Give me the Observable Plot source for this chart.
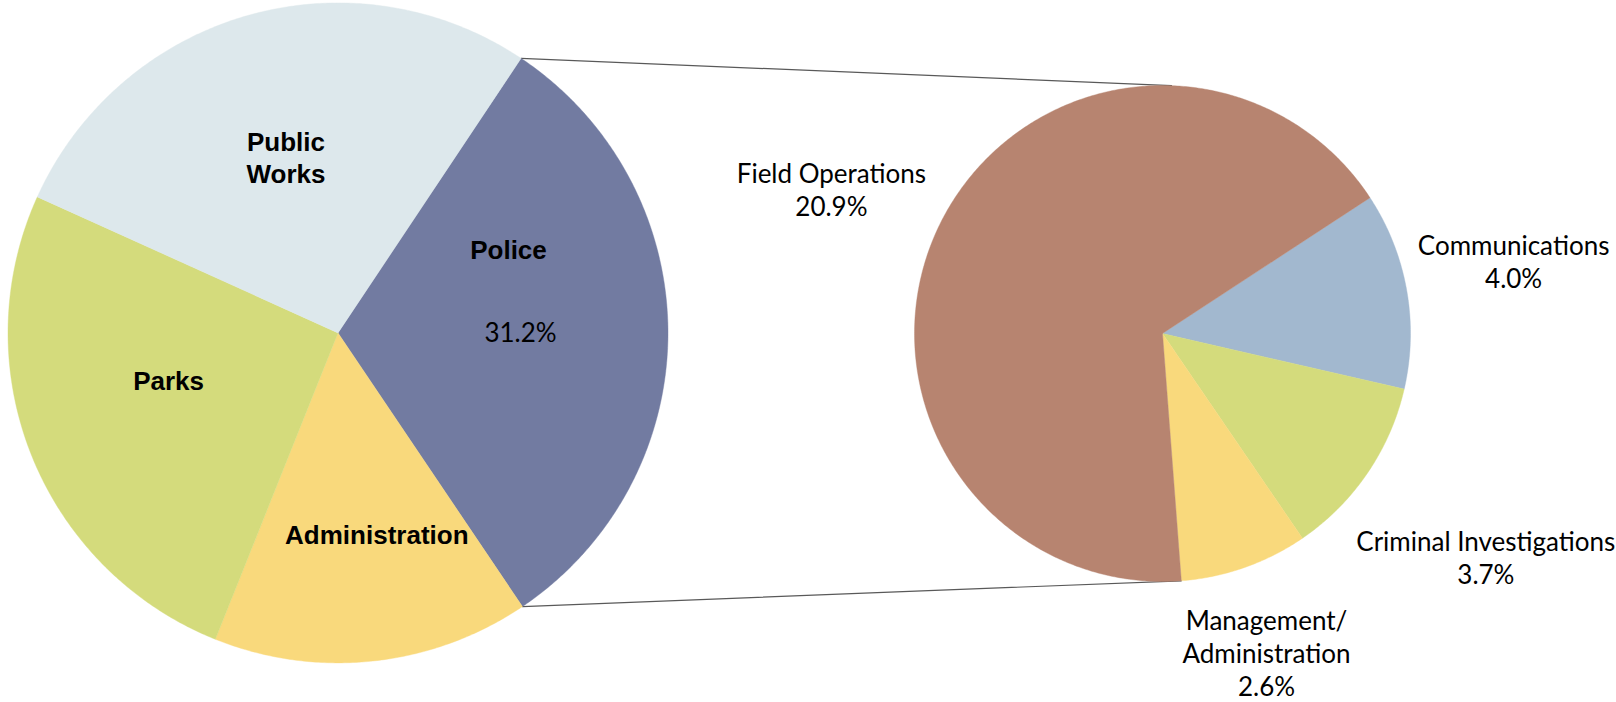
<!DOCTYPE html>
<html><head><meta charset="utf-8">
<script src="https://cdn.jsdelivr.net/npm/d3@7"></script>
<script src="https://cdn.jsdelivr.net/npm/@observablehq/plot@0.6"></script>
<style>html,body{margin:0;padding:0;background:#fff;overflow:hidden}</style>
</head><body><div id="chart"></div>
<script>
// ---- data ----
const mainCategories = ["Police", "Administration", "Parks", "Public Works"];
const mainValues = [31.2, 15.5, 25.7, 27.6];
const mainLabels = ["Police", "Administration", "Parks", "Public\nWorks"];
const mainShowValue = [true, false, false, false];

const subCategories = ["Communications", "Criminal Investigations", "Management/Administration", "Field Operations"];
const subValues = [4.0, 3.7, 2.6, 20.9];
const subLabels = ["Communications", "Criminal Investigations", "Management/\nAdministration", "Field Operations"];

// ---- styles / layout ----
const mainColors = ["#727BA1", "#F9D97C", "#D4DB7C", "#DDE8EC"];
const subColors = ["#A2B8CF", "#D4DB7C", "#F9D97C", "#B78470"];
const W = 1616, H = 702;
const mainPie = {cx: 337.5, cy: 332.4, r: 330, start: 33.7};
const subPie = {cx: 1162, cy: 333, r: 248, start: 56.8};
const mainLabelPolar = [[-13.35, 0.55], [-4.85, 0.62], [6.35, 0.533], [-0.45, 0.557]];
const subLabelPolar = [[-1.6, 1.446], [0.35, 1.585], [1.3, 1.353], [-2.7, 1.456]];
const connectorTopAngle = 2.1;

const rad = Math.PI / 180;
const fmt = v => d3.format(".1f")(v) + "%";
const polar = (p, a, r) => ({x: p.cx + r * Math.sin(a), y: p.cy - r * Math.cos(a)});

function slices(pie, cats, vals) {
  const arcs = d3.pie().value(d => d).sort(null)
    .startAngle(pie.start * rad).endAngle(pie.start * rad + 2 * Math.PI)(vals);
  const pts = [];
  arcs.forEach((a, i) => {
    pts.push({name: cats[i], ...polar(pie, 0, 0)});
    const n = Math.max(2, Math.ceil((a.endAngle - a.startAngle) / rad * 2));
    for (let k = 0; k <= n; k++) {
      const t = a.startAngle + (a.endAngle - a.startAngle) * k / n;
      pts.push({name: cats[i], ...polar(pie, t, pie.r)});
    }
    pts.push({name: cats[i], ...polar(pie, 0, 0)});
  });
  return {arcs, pts};
}

const M = slices(mainPie, mainCategories, mainValues);
const S = slices(subPie, subCategories, subValues);

const mainNames = [], mainVals = [];
M.arcs.forEach((a, i) => {
  const mid = (a.startAngle + a.endAngle) / 2 + mainLabelPolar[i][0] * rad;
  const p = polar(mainPie, mid, mainLabelPolar[i][1] * mainPie.r);
  if (mainShowValue[i]) {
    mainNames.push({x: p.x - 6, y: p.y - 42, text: mainLabels[i]});
    mainVals.push({x: p.x + 6, y: p.y + 43, text: fmt(mainValues[i])});
  } else {
    mainNames.push({x: p.x, y: p.y, text: mainLabels[i]});
  }
});
const subText = S.arcs.map((a, i) => {
  const mid = (a.startAngle + a.endAngle) / 2 + subLabelPolar[i][0] * rad;
  const p = polar(subPie, mid, subLabelPolar[i][1] * subPie.r);
  return {x: p.x, y: p.y, text: subLabels[i] + "\n" + fmt(subValues[i])};
});

// connectors: from the Police slice edges to the secondary pie
const police = M.arcs[0];
const mgmtEnd = S.arcs[2].endAngle;
const connectors = [
  {id: "top", ...polar(mainPie, police.startAngle, mainPie.r)},
  {id: "top", ...polar(subPie, connectorTopAngle * rad, subPie.r)},
  {id: "bot", ...polar(mainPie, police.endAngle, mainPie.r)},
  {id: "bot", ...polar(subPie, mgmtEnd, subPie.r)}
];

const chart = Plot.plot({
  width: W, height: H,
  margin: 0,
  x: {domain: [0, W], range: [0, W], axis: null},
  y: {domain: [0, H], range: [0, H], axis: null},
  color: {domain: [...mainCategories, ...subCategories.slice(0, 3).map(d => d), "Field Operations"], range: [...mainColors, ...subColors]},
  marks: [
    Plot.line(connectors, {x: "x", y: "y", z: "id", stroke: "#595959", strokeWidth: 1.2}),
    Plot.line(M.pts, {x: "x", y: "y", z: "name", fill: "name", stroke: "name", strokeWidth: 0.4}),
    Plot.line(S.pts, {x: "x", y: "y", z: "name", fill: "name", stroke: "name", strokeWidth: 0.4}),
    Plot.text(mainNames, {x: "x", y: "y", text: "text", fontFamily: "Liberation Sans, Arial, sans-serif", fontWeight: "bold", fontSize: 26, lineHeight: 1.22, fill: "#000"}),
    Plot.text(mainVals, {x: "x", y: "y", text: "text", fontFamily: "Lato, sans-serif", fontSize: 26, fill: "#000"}),
    Plot.text(subText, {x: "x", y: "y", text: "text", fontFamily: "Lato, sans-serif", fontSize: 26, lineHeight: 1.27, fill: "#000"})
  ]
});
document.getElementById("chart").appendChild(chart);
</script>
</body></html>
